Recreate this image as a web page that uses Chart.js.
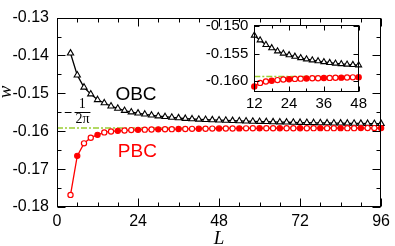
<!DOCTYPE html>
<html><head><meta charset="utf-8">
<script src="https://cdn.jsdelivr.net/npm/chart.js@4/dist/chart.umd.min.js"></script>
<style>
html,body{margin:0;padding:0;background:#fff;}
#wrap{position:relative;width:395px;height:246px;overflow:hidden;}
#main{position:absolute;left:0;top:0;}
#inset{position:absolute;left:195px;top:10px;}
</style></head><body>
<div id="wrap"><canvas id="main" width="395" height="246"></canvas><canvas id="inset" width="175" height="106"></canvas></div>
<script>
// ---- data ----
const sizes = [4,6,8,10,12,14,16,18,20,22,24,26,28,30,32,34,36,38,40,42,44,46,48,50,52,54,56,58,60,62,64,66,68,70,72,74,76,78,80,82,84,86,88,90,92,94,96];
const obcW = [-0.13940,-0.14520,-0.14840,-0.15020,-0.15170,-0.15255,-0.15338,-0.15398,-0.15455,-0.15495,-0.15525,-0.15552,-0.15578,-0.15600,-0.15618,-0.15634,-0.15650,-0.15665,-0.15677,-0.15686,-0.15695,-0.15702,-0.15708,-0.15715,-0.15722,-0.15728,-0.15734,-0.15740,-0.15745,-0.15750,-0.15755,-0.15759,-0.15763,-0.15767,-0.15771,-0.15774,-0.15777,-0.15780,-0.15783,-0.15786,-0.15788,-0.15791,-0.15793,-0.15795,-0.15797,-0.15799,-0.15801];
const pbcW = [-0.17680,-0.16650,-0.16320,-0.16170,-0.16095,-0.16030,-0.16005,-0.15990,-0.15980,-0.15970,-0.15963,-0.15958,-0.15953,-0.15950,-0.15947,-0.15945,-0.15942,-0.15940,-0.15937,-0.15935,-0.15933,-0.15930,-0.15928,-0.15927,-0.15926,-0.15925,-0.15924,-0.15923,-0.15923,-0.15922,-0.15922,-0.15921,-0.15921,-0.15920,-0.15920,-0.15920,-0.15919,-0.15919,-0.15919,-0.15918,-0.15918,-0.15918,-0.15918,-0.15917,-0.15917,-0.15917,-0.15917];
const refW = -1/(2*Math.PI);
const xTicksMain = [0,24,48,72,96];
const xMinorMain = [6,12,18,30,36,42,54,60,66,78,84,90];
const yTicksMain = [-0.18,-0.17,-0.16,-0.15,-0.14,-0.13];
const yMinorMain = [-0.175,-0.165,-0.155,-0.145,-0.135];
const xTicksInset = [12,24,36,48];
const xMinorInset = [18,30,42];
const yTicksInset = [-0.160,-0.155,-0.150];

const RED = '#ff0000', GREEN = '#9acd32';

function pts(arr, lo, hi){ return sizes.map((x,i)=>({x, y: arr[i]})).filter(p=>p.x>=lo && p.x<=hi); }

function frameTicks(xMaj, xMin, yMaj, yMin, majLen, minLen){
  return { id:'frameTicks', afterDraw(chart){
    const c = chart.ctx, a = chart.chartArea, xs = chart.scales.x, ys = chart.scales.y;
    c.save(); c.strokeStyle = '#000'; c.lineWidth = 1;
    const L = Math.round(a.left)+0.5, R = Math.round(a.right)-0.5, T = Math.round(a.top)+0.5, B = Math.round(a.bottom)-0.5;
    c.beginPath();
    const vx = (v,len)=>{ const p = Math.round(xs.getPixelForValue(v))+0.5; c.moveTo(p,B); c.lineTo(p,B-len); c.moveTo(p,T); c.lineTo(p,T+len); };
    const vy = (v,len)=>{ const p = Math.round(ys.getPixelForValue(v))+0.5; c.moveTo(L,p); c.lineTo(L+len,p); c.moveTo(R,p); c.lineTo(R-len,p); };
    xMaj.forEach(v=>vx(v,majLen)); xMin.forEach(v=>vx(v,minLen));
    yMaj.forEach(v=>vy(v,majLen)); yMin.forEach(v=>vy(v,minLen));
    c.stroke();
    c.strokeRect(L, T, R-L, B-T);
    c.restore();
  }};
}

function datasets(lo, hi, triR, circR){
  return [
    {data: pts(pbcW, lo, hi), borderColor: RED, borderWidth: 1.3, pointStyle:'circle', pointRadius: circR,
     pointBorderWidth: 1.2, pointBorderColor: RED,
     pointBackgroundColor: ctx => (ctx.raw && ctx.raw.x % 6 === 0) ? RED : '#ffffff', order: 0, clip: false},
    {data: pts(obcW, lo, hi), borderColor: '#000', borderWidth: 1.3, pointStyle:'triangle', pointRadius: triR,
     pointBorderWidth: 1.1, pointBorderColor:'#000', pointBackgroundColor:'#ffffff', order: 1, clip: false},
    {data: [{x: lo===4?0:lo, y: refW},{x: hi, y: refW}], borderColor: GREEN, borderWidth: 1.5, borderDash:[6,2,2,2], pointRadius: 0, order: 2}
  ];
}

const annot = { id:'annot', afterDraw(chart){
  const c = chart.ctx, xs = chart.scales.x, ys = chart.scales.y;
  c.save();
  c.textAlign = 'center'; c.textBaseline = 'middle';
  c.font = '19px "Liberation Sans", Arial, sans-serif';
  c.fillStyle = '#000'; c.fillText('OBC', xs.getPixelForValue(23.4), ys.getPixelForValue(-0.1504));
  c.fillStyle = RED; c.fillText('PBC', xs.getPixelForValue(23.8), ys.getPixelForValue(-0.1653));
  c.fillStyle = '#000';
  c.font = 'italic 19px "Liberation Serif", "Times New Roman", serif';
  c.fillText('L', xs.getPixelForValue(48), 239);
  c.save(); c.translate(6, 92); c.rotate(-Math.PI/2); c.fillText('w', 0, 0); c.restore();
  // -1/(2π) label
  c.font = '14px "Liberation Serif", "Times New Roman", serif';
  const yb = Math.round(ys.getPixelForValue(-0.155)) + 0.5;
  c.fillText('1', xs.getPixelForValue(7.5), yb - 8.5);
  c.fillText('2\u03c0', xs.getPixelForValue(7.6), yb + 6.5);
  c.strokeStyle = '#000'; c.lineWidth = 1; c.beginPath();
  c.moveTo(xs.getPixelForValue(2.3), yb); c.lineTo(xs.getPixelForValue(4.3), yb);
  c.moveTo(xs.getPixelForValue(5.2), yb); c.lineTo(xs.getPixelForValue(9.9), yb);
  c.stroke();
  c.restore();
}};

const tickFont = size => ({family:'"Liberation Sans", Arial, sans-serif', size});

new Chart(document.getElementById('main'), {
  type:'line',
  data:{datasets: datasets(4, 96, 3.6, 2.6)},
  options:{
    responsive:false, animation:false, events:[],
    layout:{padding:{top:5, right:8, left:0, bottom:0}},
    plugins:{legend:{display:false}, tooltip:{enabled:false}},
    scales:{
      x:{type:'linear', min:0, max:96,
         afterBuildTicks: s => { s.ticks = xTicksMain.map(v=>({value:v})); },
         afterFit: s => { s.height = 39; },
         grid:{display:false, drawTicks:false}, border:{display:false},
         ticks:{font: tickFont(16), color:'#000', padding:5, maxRotation:0, autoSkip:false}},
      y:{type:'linear', min:-0.18, max:-0.13,
         afterBuildTicks: s => { s.ticks = yTicksMain.map(v=>({value:v})); },
         afterFit: s => { s.width = 57; },
         grid:{display:false, drawTicks:false}, border:{display:false},
         ticks:{font: tickFont(16), color:'#000', padding:8, autoSkip:false, callback: v => v.toFixed(2)}}
    }
  },
  plugins:[frameTicks(xTicksMain, xMinorMain, yTicksMain, yMinorMain, 8, 4), annot]
});

const insetBg = { id:'insetBg', beforeDraw(chart){
  const a = chart.chartArea, c = chart.ctx;
  c.save(); c.fillStyle = '#fff'; c.fillRect(a.left, a.top, a.right-a.left, a.bottom-a.top); c.restore();
}};

new Chart(document.getElementById('inset'), {
  type:'line',
  data:{datasets: datasets(12, 48, 3.4, 2.6)},
  options:{
    responsive:false, animation:false, events:[],
    layout:{padding:{top:9, right:8.3, left:0, bottom:0}},
    plugins:{legend:{display:false}, tooltip:{enabled:false}},
    scales:{
      x:{type:'linear', min:12, max:48,
         afterBuildTicks: s => { s.ticks = xTicksInset.map(v=>({value:v})); },
         afterFit: s => { s.height = 24.3; },
         grid:{display:false, drawTicks:false}, border:{display:false},
         ticks:{font: tickFont(15), color:'#000', padding:3, maxRotation:0, autoSkip:false}},
      y:{type:'linear', min:-0.1619, max:-0.1498,
         afterBuildTicks: s => { s.ticks = yTicksInset.map(v=>({value:v})); },
         afterFit: s => { s.width = 59.3; },
         grid:{display:false, drawTicks:false}, border:{display:false},
         ticks:{font: tickFont(15), color:'#000', padding:6, autoSkip:false, callback: v => v.toFixed(3)}}
    }
  },
  plugins:[insetBg, frameTicks(xTicksInset, xMinorInset, yTicksInset, [], 5, 3)]
});
</script>
</body></html>
